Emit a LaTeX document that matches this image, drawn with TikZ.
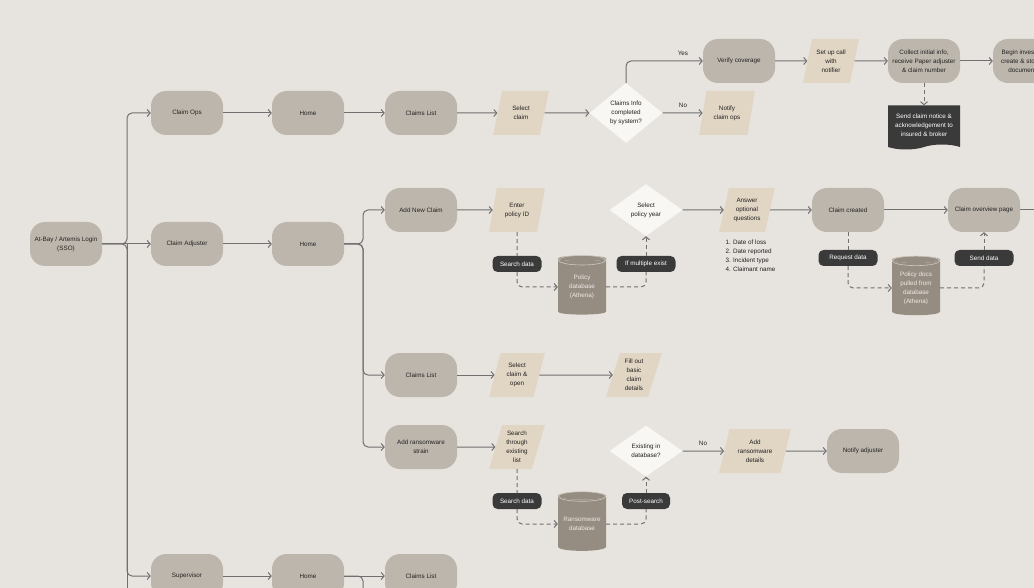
\documentclass[tikz,border=0pt]{standalone}
\usepackage{fontspec}
\setmainfont{Liberation Sans}
\usetikzlibrary{shapes.geometric,shapes.symbols,arrows.meta}
\definecolor{bgc}{HTML}{E7E4DF}
\definecolor{procc}{HTML}{BDB6AC}
\definecolor{datac}{HTML}{E1D5C3}
\definecolor{decc}{HTML}{F9F7F3}
\definecolor{darkc}{HTML}{3A3A3A}
\definecolor{dbc}{HTML}{968D82}
\definecolor{dbtxt}{HTML}{EEEAE4}
\definecolor{dbline}{HTML}{CFC8BE}
\definecolor{lnc}{HTML}{707070}
\definecolor{txc}{HTML}{222222}
\begin{document}
\begin{tikzpicture}[x=1pt,y=-1pt,>={Straight Barb[length=3pt,width=7pt]},
    every node/.style={font=\fontsize{6.3}{9}\selectfont,align=center,text=txc},
    proc/.style={rectangle,rounded corners=15pt,fill=procc,minimum width=72pt,minimum height=44pt,inner sep=1pt},
    data/.style={trapezium,trapezium left angle=73,trapezium right angle=107,trapezium stretches=true,fill=datac,minimum width=56pt,minimum height=44pt,inner sep=1pt},
    decide/.style={diamond,aspect=1.6,fill=decc,inner sep=0pt,minimum width=73pt,minimum height=60pt},
    pill/.style={rectangle,rounded corners=5pt,fill=darkc,text=white,minimum height=16pt,minimum width=49pt,inner sep=2pt},
    db/.style={cylinder,shape border rotate=90,aspect=0.2,cylinder uses custom fill,cylinder body fill=dbc,cylinder end fill=dbc,text=dbtxt,minimum width=48pt,minimum height=59pt,inner sep=1pt},
    doc/.style={tape,tape bend top=none,fill=darkc,text=white,minimum width=72pt,minimum height=44pt,inner sep=1pt},
    link/.style={draw=lnc,line width=1pt,rounded corners=5pt},
    dlink/.style={link,dash pattern=on 4pt off 3pt}]
\useasboundingbox (0,0) rectangle (1034,588);
\clip (0,0) rectangle (1034,588);
\fill[bgc] (0,0) rectangle (1034,588);

% roles
\node (login) at (66,244) [proc] {At-Bay / Artemis Login\\(SSO)};
\node (ops) at (187,113) [proc] {Claim Ops};
\node (adj) at (187,244) [proc] {Claim Adjuster};
\node (sup) at (187,576) [proc] {Supervisor};
\coordinate (j1) at (127,244);
\coordinate (trunk) at (127,610);

% claim ops
\node (home1) at (308,113) [proc] {Home};
\node (list1) at (421,113) [proc] {Claims List};
\node (sel1) at (521,113) [data] {Select\\claim};
\node (info) at (626,113) [decide] {Claims Info\\completed\\by system?};
\node (notify) at (727,113) [data] {Notify\\claim ops};
\node (verify) at (739,61) [proc] {Verify coverage};
\node (call) at (831,61) [data] {Set up call\\with\\notifier};
\node (collect) at (924,61) [proc] {Collect initial info,\\receive Paper adjuster\\\& claim number};
\node (invest) at (1029,61) [proc] {Begin investigation,\\create \& store claim\\documentation};
\node (notice) at (924,125) [doc] {Send claim notice \&\\acknowledgement to\\insured \& broker};
\node (yes) at (683,53) {Yes};
\node (no1) at (683,105) {No};

% claim adjuster
\node (home2) at (308,244) [proc] {Home};
\coordinate (j2) at (363,244);
\node (newc) at (421,210) [proc] {Add New Claim};
\node (pid) at (517,210) [data] {Enter\\policy ID};
\node (year) at (646,210) [decide,minimum height=52pt] {Select\\policy year};
\node (pdb) at (582,287) [db] {Policy\\database\\(Athena)};
\node (answer) at (747,210) [data] {Answer\\optional\\questions};
\node (qlist) at (722,236) [anchor=north west,align=left] {1. Date of loss\\2. Date reported\\3. Incident type\\4. Claimant name};
\node (created) at (848,210) [proc] {Claim created};
\node (overview) at (984,210) [proc] {Claim overview page};
\coordinate (ovend) at (1050,210);
\node (docs) at (916,288) [db] {Policy docs\\pulled from\\database\\(Athena)};

\node (list3) at (421,375) [proc] {Claims List};
\node (selo) at (517,375) [data] {Select\\claim \&\\open};
\node (fill) at (634,375) [data] {Fill out\\basic\\claim\\details};

\node (rans) at (421,447) [proc] {Add ransomware\\strain};
\node (search) at (517,447) [data] {Search\\through\\existing\\list};
\node (exist) at (646,451) [decide,minimum height=51pt] {Existing in\\database?};
\node (rdb) at (582,524) [db] {Ransomware\\database};
\node (addr) at (755,451) [data,minimum width=72pt] {Add\\ransomware\\details};
\node (nadj) at (863,451) [proc] {Notify adjuster};
\node (no2) at (703,443) {No};

% supervisor
\node (home5) at (308,576) [proc] {Home};
\node (list5) at (421,576) [proc] {Claims List};
\coordinate (j5) at (363,576);
\coordinate (j5end) at (363,620);

% cylinder tops
\foreach \c in {pdb,docs,rdb}
  \draw[dbline,line width=0.6pt] ([yshift=-4.8pt]\c.north) ellipse [x radius=23.7pt,y radius=4.8pt];

% dark labels
\node (sd1) at (517,264) [pill] {Search data};
\node (mult) at (646,264) [pill,minimum width=59pt] {If multiple exist};
\node (req) at (848,258) [pill,minimum width=59pt] {Request data};
\node (send) at (984,258) [pill,minimum width=59pt] {Send data};
\node (sd2) at (517,501) [pill] {Search data};
\node (post) at (646,501) [pill,minimum width=48pt] {Post-search};

% links
\draw[link,->] (login.east) -- (j1) |- (ops.west);
\draw[link,->] (login.east) -- (adj.west);
\draw[link,->] (login.east) -- (j1) |- (sup.west);
\draw[link] (j1) -- (trunk);

\draw[link,->] (ops) -- (home1);
\draw[link,->] (home1) -- (list1);
\draw[link,->] (list1) -- (sel1);
\draw[link,->] (sel1) -- (info);
\draw[link,->] (info.north) |- (verify.west);
\draw[link,->] (info) -- (notify);
\draw[link,->] (verify) -- (call);
\draw[link,->] (call) -- (collect);
\draw[link,->] (collect) -- (invest);
\draw[dlink,->] (collect) -- (notice);

\draw[link,->] (adj) -- (home2);
\draw[link,->] (home2.east) -- (j2) |- (newc.west);
\draw[link,->] (home2.east) -- (j2) |- (list3.west);
\draw[link,->] (home2.east) -- (j2) |- (rans.west);
\draw[link,->] (newc) -- (pid);
\draw[dlink] (pid) -- (sd1);
\draw[dlink,->] (sd1) |- (pdb);
\draw[dlink] (pdb) -| (mult);
\draw[dlink,->] (mult) -- (year);
\draw[link,->] (year) -- (answer);
\draw[link,->] (answer) -- (created);
\draw[link,->] (created) -- (overview);
\draw[link] (overview) -- (ovend);
\draw[dlink] (created) -- (req);
\draw[dlink,->] (req) |- (docs);
\draw[dlink] (docs) -| (send);
\draw[dlink,->] (send) -- (overview);

\draw[link,->] (list3) -- (selo);
\draw[link,->] (selo) -- (fill);

\draw[link,->] (rans) -- (search);
\draw[dlink] (search) -- (sd2);
\draw[dlink,->] (sd2) |- (rdb);
\draw[dlink] (rdb) -| (post);
\draw[dlink,->] (post) -- (exist);
\draw[link,->] (exist) -- (addr);
\draw[link,->] (addr) -- (nadj);

\draw[link,->] (sup) -- (home5);
\draw[link,->] (home5) -- (list5);
\draw[link] (home5.east) -- (j5) -- (j5end);
\end{tikzpicture}
\end{document}
